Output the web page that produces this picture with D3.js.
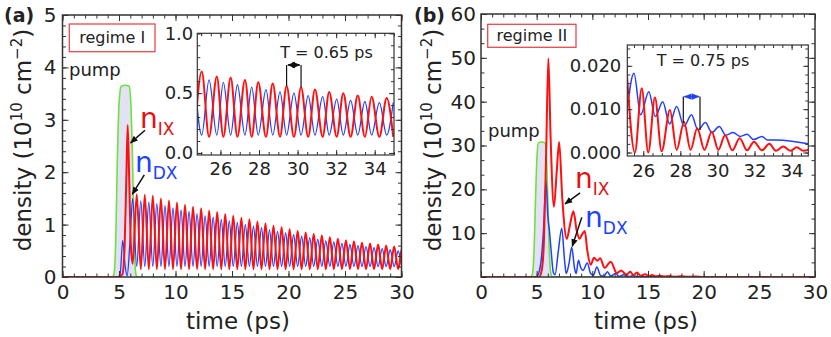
<!DOCTYPE html>
<html>
<head>
<meta charset="utf-8">
<style>
  body { margin: 0; background: #fff; }
  svg { display: block; font-family: "DejaVu Sans", sans-serif; }
</style>
</head>
<body>
<svg id="chart"></svg>
<script src="https://cdnjs.cloudflare.com/ajax/libs/d3/7.8.5/d3.min.js"></script>
<script>
// ---- panel (a), main plot: extrema of the oscillation (ps, 10^10 cm^-2)
const ixEarlyA = [[0,0],[4.9,0],[5.3,0.05],[5.5,0.6],[5.65,1.9],[5.77,2.9],[5.9,1.9],[6.05,0.6],[6.21,0.25]];
const dxEarlyA = [[0,0],[4.9,0],[5.1,0.05],[5.33,0.7],[5.55,0.2],[5.72,0.02],[5.95,0.6],[6.21,1.5]];
const ixPeakT_A = [6.57,7.28,7.99,8.71,9.42,10.13,10.84,11.55,12.27,12.98,13.69,14.40,15.11,15.83,16.54,17.25,17.96,
                   18.67,19.39,20.10,20.81,21.52,22.23,22.95,23.66,24.37,25.08,25.79,26.50,27.22,27.93,28.64,29.35,30.06];
const ixPeakV_A = [1.58,1.57,1.55,1.50,1.46,1.42,1.38,1.34,1.31,1.27,1.24,1.20,1.17,1.13,1.10,1.06,1.02,
                   0.98,0.95,0.91,0.88,0.85,0.82,0.79,0.76,0.73,0.70,0.68,0.66,0.64,0.62,0.60,0.58,0.56];
const dxPeakT_A = [6.93,7.64,8.35,9.07,9.78,10.49,11.20,11.91,12.62,13.33,14.05,14.76,15.47,16.18,16.90,17.61,18.32,
                   19.03,19.74,20.45,21.16,21.88,22.59,23.30,24.01,24.73,25.44,26.15,26.86,27.57,28.29,29.00,29.71,30.42];
const dxPeakV_A = [1.45,1.43,1.40,1.36,1.32,1.28,1.25,1.21,1.17,1.14,1.10,1.07,1.04,1.00,0.97,0.94,0.90,
                   0.87,0.84,0.81,0.78,0.75,0.72,0.69,0.67,0.64,0.62,0.60,0.58,0.56,0.54,0.52,0.50,0.49];
const IX_TROUGH_A = 0.15, DX_TROUGH_A = 0.2;
const pumpA = [[0,0],[4.4,0],[4.55,0.05],[4.7,0.6],[4.85,2.2],[5.0,3.3],[5.2,3.64],[5.55,3.66],[5.9,3.64],
               [6.05,3.3],[6.2,2.2],[6.35,0.6],[6.5,0.05],[6.65,0],[30,0]];

// ---- panel (a), inset (25-35 ps)
const ixPeakT_inA = [25.03,25.81,26.53,27.27,27.96,28.71,29.43,30.18,30.90,31.64,32.37,33.12,33.84,34.62];
const ixPeakV_inA = [0.68,0.64,0.63,0.61,0.59,0.58,0.56,0.55,0.53,0.51,0.50,0.48,0.47,0.46];
const dxPeakT_inA = [24.66,25.41,26.15,26.88,27.62,28.36,29.09,29.81,30.55,31.30,32.03,32.75,33.49,34.24,34.96];
const dxPeakV_inA = [0.63,0.61,0.59,0.57,0.55,0.53,0.51,0.50,0.48,0.47,0.45,0.44,0.43,0.42,0.42];
const IX_TROUGH_inA = 0.135, DX_TROUGH_inA = 0.15;

// ---- panel (b), main plot
const ixB = [[0,0],[5.2,0],[5.45,1.5],[5.65,8],[5.85,28],[6.05,49.9],[6.25,32],[6.55,16],[6.8,24],[7.02,30.8],
             [7.3,18],[7.7,8.7],[8.0,12],[8.3,15],[8.6,10.5],[8.85,8.7],[9.1,9.8],[9.32,10.5],[9.55,6],[9.85,2.8],
             [10.15,4.4],[10.45,3.7],[10.7,4.3],[11.1,2.1],[11.65,3.5],[12.2,0.9],[12.6,1.5],[13.05,0.5],[13.4,1.2],
             [13.7,0.4],[14.0,1.0],[14.35,0.3],[14.75,0.6],[15.1,0.2],[15.35,0.45],[15.7,0.15],[16.1,0.3],[16.5,0.1],
             [16.9,0.2],[17.4,0.05],[18.0,0.15],[18.5,0.05],[19.2,0.1],[20,0.02],[30,0.02]];
const dxB = [[0,0],[4.95,0],[5.2,1],[5.45,5],[5.62,11],[5.84,22],[6.0,14],[6.15,10.5],[6.3,6],[6.5,1],[6.65,0.5],
             [6.95,6],[7.25,11.1],[7.5,4],[7.65,0.8],[7.9,3],[8.15,6.8],[8.4,2],[8.55,0.8],[8.75,3.8],[8.95,2.2],
             [9.15,1.5],[9.55,3.2],[9.85,0.8],[10.1,0.4],[10.4,2.3],[10.75,0.3],[11.05,0.2],[11.35,1.2],[11.65,0.2],
             [12.1,0.8],[12.4,0.1],[12.8,0.5],[13.3,0.1],[13.6,0.3],[14.2,0.05],[30,0]];
const pumpB = [[0,0],[4.45,0],[4.6,0.5],[4.75,5],[4.9,18],[5.02,27],[5.15,30.6],[5.45,30.8],[5.75,30.6],
               [5.88,27],[6.0,18],[6.15,5],[6.3,0.5],[6.45,0],[30,0]];

// ---- panel (b), inset
const ixInB = [[25.1,0.0195],[25.55,0],[25.92,0.0148],[26.27,0],[26.63,0.0127],[26.99,0.0003],[27.44,0.0098],
               [27.8,0.0006],[28.2,0.0071],[28.55,0.0006],[28.91,0.0056],[29.3,0.0006],[29.69,0.0048],[30.05,0.0006],
               [30.41,0.004],[30.8,0.0005],[31.2,0.0033],[31.6,0.0005],[31.97,0.0025],[32.4,0.0005],[32.8,0.002],
               [33.15,0.0004],[33.55,0.0014],[33.95,0.0004],[34.27,0.0012],[34.64,0.0004],[35,0.0008]];
const dxInB = [[25.1,0.0088],[25.5,0.0183],[25.86,0.0087],[26.3,0.0140],[26.65,0.0083],[27.05,0.0117],[27.42,0.0066],
               [27.8,0.0106],[28.2,0.0061],[28.6,0.0087],[28.95,0.0052],[29.35,0.0069],[29.7,0.0046],[30.1,0.0060],
               [30.45,0.0040],[30.85,0.0046],[31.22,0.0037],[31.6,0.0042],[31.95,0.0030],[32.4,0.0037],[32.7,0.0029],
               [33.2,0.0029],[34.9,0.0020]];

const timeTicks = [0,5,10,15,20,25,30];
const insetTicks = [26,28,30,32,34];

const RED = "#ff1010", BLUE = "#2040ff", GREEN = "#6fe03c", LAV = "#e2e2f4", INK = "#222";

const svg = d3.select("#chart").attr("width", 831).attr("height", 337);
const defs = svg.append("defs");

function marker(id, color) {
  defs.append("marker").attr("id", id)
    .attr("viewBox", "0 0 10 10").attr("refX", 9).attr("refY", 5)
    .attr("markerUnits", "userSpaceOnUse").attr("markerWidth", 8).attr("markerHeight", 8)
    .attr("orient", "auto-start-reverse")
    .append("path").attr("d", "M0,1L10,5L0,9z").attr("fill", color);
}
marker("arrK", "#111");
marker("arrB", BLUE);

// peaks of one series + troughs at the other series' peak times
function extrema(peakT, peakV, troughT, troughV) {
  const pts = peakT.map((t, i) => [t, peakV[i]]).concat(troughT.map(t => [t, troughV]));
  return pts.sort((a, b) => a[0] - b[0]);
}

let clipN = 0;
function plotArea(x, y, bg) {
  const [x0, x1] = x.range(), [y1, y0] = y.range();
  const id = "clip" + (clipN++);
  defs.append("clipPath").attr("id", id)
    .append("rect").attr("x", x0).attr("y", y0).attr("width", x1 - x0).attr("height", y1 - y0);
  const g = svg.append("g");
  if (bg) g.append("rect").attr("x", x0).attr("y", y0).attr("width", x1 - x0).attr("height", y1 - y0).attr("fill", "#fff");
  return g.append("g").attr("clip-path", `url(#${id})`);
}

function curve(g, x, y, pts, color, w) {
  const line = d3.line().x(d => x(d[0])).y(d => y(d[1])).curve(d3.curveMonotoneX);
  g.append("path").attr("d", line(pts)).attr("fill", "none")
    .attr("stroke", color).attr("stroke-width", w).attr("stroke-linejoin", "round");
}

function pump(g, x, y, pts) {
  const area = d3.area().x(d => x(d[0])).y0(y(0)).y1(d => y(d[1])).curve(d3.curveMonotoneX);
  g.append("path").attr("d", area(pts)).attr("fill", LAV);
  curve(g, x, y, pts, GREEN, 1.6);
}

function axes(x, y, c) {
  const [x0, x1] = x.range(), [y1, y0] = y.range();
  const g = svg.append("g");
  const sides = [
    [d3.axisBottom, x, `translate(0,${y1})`, c.xMaj, c.xMin, c.xFmt, c.xPad],
    [d3.axisTop, x, `translate(0,${y0})`, c.xMaj, c.xMin, null, 0],
    [d3.axisLeft, y, `translate(${x0},0)`, c.yMaj, c.yMin, c.yFmt, c.yPad],
    [d3.axisRight, y, `translate(${x1},0)`, c.yMaj, c.yMin, null, 0]
  ];
  sides.forEach(([axis, s, tr, maj, min, fmt, pad]) => {
    g.append("g").attr("transform", tr).attr("color", "#333")
      .call(axis(s).tickValues(min).tickSize(-c.minor).tickFormat(""))
      .call(a => a.select(".domain").remove());
    g.append("g").attr("transform", tr).attr("color", "#333")
      .call(axis(s).tickValues(maj).tickSize(-c.major).tickPadding(pad).tickFormat(fmt || (() => "")))
      .attr("font-size", c.fs).attr("font-family", "DejaVu Sans")
      .call(a => a.select(".domain").remove())
      .call(a => a.selectAll("text").attr("fill", INK));
  });
  g.append("rect").attr("x", x0).attr("y", y0).attr("width", x1 - x0).attr("height", y1 - y0)
    .attr("fill", "none").attr("stroke", "#333").attr("stroke-width", c.sw);
}

function text(x, y, s, size, opts = {}) {
  return svg.append("text").attr("x", x).attr("y", y).attr("font-size", size)
    .attr("fill", opts.fill || INK).attr("text-anchor", opts.anchor || "start")
    .attr("font-weight", opts.weight || "normal").text(s);
}

function yLabel(x, cy) {
  const t = svg.append("text").attr("transform", `translate(${x},${cy}) rotate(-90)`)
    .attr("text-anchor", "middle").attr("font-size", 23).attr("fill", INK);
  t.append("tspan").text("density (10");
  t.append("tspan").attr("dy", -9).attr("font-size", 15).text("10");
  t.append("tspan").attr("dy", 9).text(" cm");
  t.append("tspan").attr("dy", -9).attr("font-size", 15).text("\u22122");
  t.append("tspan").attr("dy", 9).text(")");
}

function nLabel(x, y, sub, color) {
  const t = svg.append("text").attr("x", x).attr("y", y).attr("fill", color).attr("font-size", 28);
  t.append("tspan").text("n");
  t.append("tspan").attr("dy", 7).attr("font-size", 17).text(sub);
}

function arrow(x1, y1, x2, y2, color, id, both) {
  const l = svg.append("line").attr("x1", x1).attr("y1", y1).attr("x2", x2).attr("y2", y2)
    .attr("stroke", color).attr("stroke-width", 1.5).attr("marker-end", `url(#${id})`);
  if (both) l.attr("marker-start", `url(#${id})`);
}

function regime(x, y, w, h, s, base) {
  svg.append("rect").attr("x", x).attr("y", y).attr("width", w).attr("height", h)
    .attr("fill", "#fff").attr("stroke", "#e84a4a").attr("stroke-width", 1.3);
  text(x + w / 2, base, s, 16, { anchor: "middle" });
}

// ================= panel (a) =================
const xA = d3.scaleLinear([0, 30], [62.5, 401.5]);
const yA = d3.scaleLinear([0, 5], [277, 15]);
const gA = plotArea(xA, yA, false);
pump(gA, xA, yA, pumpA);
curve(gA, xA, yA, dxEarlyA.concat(extrema(dxPeakT_A, dxPeakV_A, ixPeakT_A, DX_TROUGH_A)), BLUE, 1.3);
curve(gA, xA, yA, ixEarlyA.concat(extrema(ixPeakT_A, ixPeakV_A, dxPeakT_A, IX_TROUGH_A)), RED, 2);
axes(xA, yA, {
  xMaj: timeTicks, xMin: d3.range(0, 30.01, 1), xFmt: d3.format("d"), xPad: 8,
  yMaj: [0, 1, 2, 3, 4, 5], yMin: d3.range(0, 5.01, 0.2), yFmt: d3.format("d"), yPad: 6,
  major: 6, minor: 3.5, fs: 20, sw: 1.5
});

const xIA = d3.scaleLinear([24.8, 35], [197.3, 394]);
const yIA = d3.scaleLinear([-0.017, 1], [155, 33.3]);
const gIA = plotArea(xIA, yIA, true);
curve(gIA, xIA, yIA, extrema(dxPeakT_inA, dxPeakV_inA, ixPeakT_inA, DX_TROUGH_inA), BLUE, 1.3);
curve(gIA, xIA, yIA, extrema(ixPeakT_inA, ixPeakV_inA, dxPeakT_inA, IX_TROUGH_inA), RED, 2);
axes(xIA, yIA, {
  xMaj: insetTicks, xMin: d3.range(25, 35.01, 0.5), xFmt: d3.format("d"), xPad: 7,
  yMaj: [0, 0.5, 1], yMin: d3.range(0, 1.01, 0.1), yFmt: d3.format(".1f"), yPad: 4,
  major: 5, minor: 3, fs: 18, sw: 1.2
});
// period marker
[[29.43, 0.56], [30.18, 0.55]].forEach(([t, v]) =>
  svg.append("line").attr("x1", xIA(t)).attr("x2", xIA(t)).attr("y1", yIA(0.735)).attr("y2", yIA(v))
    .attr("stroke", "#111").attr("stroke-width", 1.2));
arrow(xIA(29.5), yIA(0.735), xIA(30.11), yIA(0.735), "#111", "arrK", true);
text(xIA(31.5), yIA(0.79), "T = 0.65 ps", 16, { anchor: "middle" });

text(4, 22, "(a)", 19, { weight: "bold" });
regime(69.3, 24, 85.7, 27.7, "regime I", 43);
text(69, 76, "pump", 18);
nLabel(xA(6.86), yA(2.84), "IX", "#e41010");
nLabel(xA(6.42), yA(2.0), "DX", BLUE);
arrow(xA(7.3), yA(2.8), xA(6.02), yA(2.56), "#111", "arrK");
arrow(xA(7.24), yA(1.95), xA(6.18), yA(1.58), "#111", "arrK");
yLabel(31, 140);
text(238, 329, "time (ps)", 23, { anchor: "middle" });

// ================= panel (b) =================
const xB = d3.scaleLinear([0, 30], [481, 815]);
const yB = d3.scaleLinear([0, 60], [277, 14]);
const gB = plotArea(xB, yB, false);
pump(gB, xB, yB, pumpB);
curve(gB, xB, yB, dxB, BLUE, 1.5);
curve(gB, xB, yB, ixB, RED, 2);
axes(xB, yB, {
  xMaj: timeTicks, xMin: d3.range(0, 30.01, 1), xFmt: d3.format("d"), xPad: 8,
  yMaj: [0, 10, 20, 30, 40, 50, 60], yMin: d3.range(0, 60.01, 10 / 3), yFmt: d => d === 0 ? "" : d, yPad: 5,
  major: 6, minor: 3.5, fs: 20, sw: 1.5
});

const xIB = d3.scaleLinear([25.14, 34.9], [627.3, 808.3]);
const yIB = d3.scaleLinear([-0.0008, 0.0248], [156, 45]);
const gIB = plotArea(xIB, yIB, true);
curve(gIB, xIB, yIB, dxInB, BLUE, 1.5);
curve(gIB, xIB, yIB, ixInB, RED, 2);
axes(xIB, yIB, {
  xMaj: insetTicks, xMin: d3.range(25.5, 34.91, 0.5), xFmt: d3.format("d"), xPad: 8,
  yMaj: [0, 0.01, 0.02], yMin: d3.range(0, 0.0241, 0.002), yFmt: d3.format(".3f"), yPad: 6,
  major: 5, minor: 3, fs: 18, sw: 1.2
});
[[28.16, 0.0068], [29.06, 0.0052]].forEach(([t, v]) =>
  svg.append("line").attr("x1", xIB(t)).attr("x2", xIB(t)).attr("y1", yIB(0.0129)).attr("y2", yIB(v))
    .attr("stroke", "#111").attr("stroke-width", 1.2));
arrow(xIB(28.22), yIB(0.0129), xIB(29.0), yIB(0.0129), BLUE, "arrB", true);
text(xIB(29.22), yIB(0.0200), "T = 0.75 ps", 16, { anchor: "middle" });

text(414, 22, "(b)", 19, { weight: "bold" });
regime(487.7, 24.3, 88.3, 23, "regime II", 41);
text(488, 137, "pump", 18);
nLabel(xB(8.45), yB(20.2), "IX", "#e41010");
nLabel(xB(9.35), yB(11.3), "DX", BLUE);
arrow(xB(8.9), yB(19.2), xB(7.55), yB(16.7), "#111", "arrK");
arrow(xB(9.05), yB(13.6), xB(8.2), yB(7.0), "#111", "arrK");
yLabel(441, 140);
text(646, 329, "time (ps)", 23, { anchor: "middle" });
</script>
</body>
</html>
